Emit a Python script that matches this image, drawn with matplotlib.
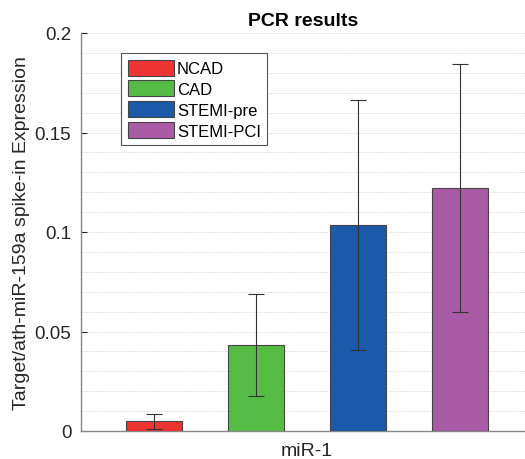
import matplotlib
matplotlib.use("Agg")
import matplotlib.pyplot as plt
from matplotlib.ticker import MultipleLocator

groups = ["NCAD", "CAD", "STEMI-pre", "STEMI-PCI"]
means = [0.0048, 0.0432, 0.1035, 0.1221]
errors = [0.0038, 0.0255, 0.063, 0.0622]
colors = ["#EE3333", "#55BB44", "#1B5AA8", "#AA5BA5"]
category = "miR-1"

plt.rcParams['font.family'] = ['Liberation Sans', 'DejaVu Sans']

fig = plt.figure(figsize=(5.25, 4.6), dpi=100)
ax = fig.add_axes([81/525, 28/460, 444/525, 398/460])

xs = [1, 2, 3, 4]
for x, m, e, c, g in zip(xs, means, errors, colors, groups):
    ax.bar(x, m, width=0.55, color=c, edgecolor="#444444", linewidth=0.8, label=g, zorder=3)
    ax.errorbar(x, m, yerr=e, fmt="none", ecolor="#333333", elinewidth=0.8, capsize=6, capthick=0.8, zorder=4)

ax.set_xlim(0.284, 4.637)
ax.set_ylim(0, 0.2)
ax.yaxis.set_minor_locator(MultipleLocator(0.01))
ax.set_yticks([0, 0.05, 0.1, 0.15, 0.2])
ax.set_yticklabels(["0", "0.05", "0.1", "0.15", "0.2"])
ax.grid(True, which="both", axis="y", linestyle=(0, (1, 1.5)), color="#d0d0d0", linewidth=0.7, zorder=0)
ax.set_xticks([2.5])
ax.set_xticklabels([category])
ax.tick_params(axis="x", length=0, labelsize=14, colors="#262626", pad=8)
ax.tick_params(axis="y", which="major", direction="in", length=4, labelsize=13.5, colors="#262626", pad=7)
ax.tick_params(axis="y", which="minor", length=0)
for s in ["top", "right"]:
    ax.spines[s].set_visible(False)
for s in ["left", "bottom"]:
    ax.spines[s].set_color("#888888")
    ax.spines[s].set_linewidth(1.0)

ax.set_ylabel("Target/ath-miR-159a spike-in Expression", fontsize=14, color="#262626", labelpad=3)
ax.set_title("PCR results", fontsize=14, fontweight="bold", pad=6)

leg = ax.legend(loc="upper left", bbox_to_anchor=(0.09, 0.95), borderaxespad=0,
                fontsize=12, handlelength=2.8, handleheight=1.1, labelspacing=0.25,
                handletextpad=0.15, borderpad=0.4, fancybox=False, framealpha=1)
leg.get_frame().set_edgecolor("#555555")
leg.get_frame().set_linewidth(0.8)

fig.savefig("out.png", dpi=100)
